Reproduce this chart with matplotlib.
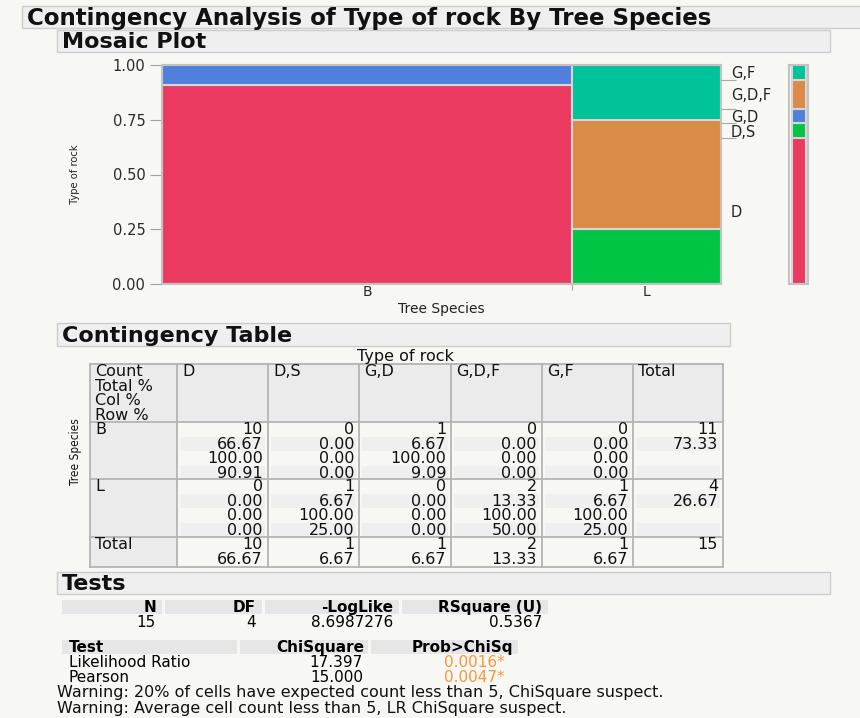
"""
JMP style contingency report: mosaic plot, contingency table and tests.
"""
import numpy as np
import matplotlib
matplotlib.use('Agg')
import matplotlib.pyplot as plt
from matplotlib.patches import Rectangle
from matplotlib.ticker import FixedLocator, NullFormatter

# data
species = ['B', 'L']
rock_types = ['D', 'D,S', 'G,D', 'G,D,F', 'G,F']
counts = np.array([[10, 0, 1, 0, 0],
                   [0, 1, 0, 2, 1]])
rock_colors = ['#EA3A60', '#00C444', '#507FDC', '#DC8A47', '#00C29B']
stat_labels = ['Count', 'Total %', 'Col %', 'Row %']

test_cols = ['N', 'DF', '-LogLike', 'RSquare (U)']
test_vals = ['15', '4', '8.6987276', '0.5367']
chi_cols = ['Test', 'ChiSquare', 'Prob>ChiSq']
chi_names = ['Likelihood Ratio', 'Pearson']
chi_square = ['17.397', '15.000']
chi_prob = ['0.0016*', '0.0047*']
warn_lines = ['Warning: 20% of cells have expected count less than 5, ChiSquare suspect.',
              'Warning: Average cell count less than 5, LR ChiSquare suspect.']

n_total = counts.sum()
row_tot = counts.sum(axis=1)
col_tot = counts.sum(axis=0)
total_pct = counts / n_total * 100
col_pct = counts / col_tot * 100
row_pct = counts / row_tot[:, None] * 100

W, H = 860, 718
BG = '#F7F7F4'
GRID = '#B4B4B4'
narrow = ['Liberation Sans Narrow', 'DejaVu Sans']

fig = plt.figure(figsize=(W / 100, H / 100), dpi=100, facecolor=BG)
bg = fig.add_axes([0, 0, 1, 1])
bg.set_xlim(0, W)
bg.set_ylim(H, 0)
bg.axis('off')


def px_axes(x0, y0, x1, y1):
    """axes placed in pixel coords (origin top left)"""
    return fig.add_axes([x0 / W, 1 - y1 / H, (x1 - x0) / W, (y1 - y0) / H])


def header(x0, y0, x1, y1, label, size=16):
    bg.add_patch(Rectangle((x0, y0), x1 - x0, y1 - y0, fc='#EFEFEF', ec='#CCCCCC', lw=1))
    bg.text(x0 + 5, (y0 + y1) / 2 + 1, label, fontsize=size, fontweight='bold',
            va='center', ha='left', color='#111111')


header(22, 6, 880, 28, 'Contingency Analysis of Type of rock By Tree Species', 16.5)
header(57, 30, 830, 52, 'Mosaic Plot')
header(57, 323, 730, 346, 'Contingency Table')
header(57, 572, 830, 594, 'Tests')

# ---- mosaic plot
ax = px_axes(162, 65, 721, 284)
ax.set_facecolor(BG)
widths = row_tot / n_total
lefts = np.concatenate(([0], np.cumsum(widths)[:-1]))
for i in range(len(species)):
    bottom = 0.0
    for j in range(len(rock_types)):
        h = counts[i, j] / row_tot[i]
        if h > 0:
            ax.bar(lefts[i], h, width=widths[i], bottom=bottom, align='edge',
                   color=rock_colors[j], edgecolor='#D6D6D6', linewidth=1.5)
        bottom += h
ax.set_xlim(0, 1)
ax.set_ylim(0, 1)
for s in ax.spines.values():
    s.set_color('#C2C2C2')
    s.set_linewidth(1.5)
ax.set_yticks([0, 0.25, 0.5, 0.75, 1.0])
ax.set_yticklabels(['0.00', '0.25', '0.50', '0.75', '1.00'])
ax.tick_params(axis='y', length=9, color='#A0A0A0', labelsize=10.5, labelcolor='#2A2A2A', pad=3)
ax.xaxis.set_major_locator(FixedLocator(lefts[1:]))
ax.xaxis.set_major_formatter(NullFormatter())
ax.set_xticks(lefts + widths / 2, minor=True)
ax.set_xticklabels(species, minor=True)
ax.tick_params(axis='x', which='major', length=4, color='#A0A0A0')
ax.tick_params(axis='x', which='minor', length=0, labelsize=10, labelcolor='#2A2A2A', pad=1)
ax.set_xlabel('Tree Species', fontsize=10, color='#222222', labelpad=2)
ax.set_ylabel('Type of rock', fontsize=8, family=narrow, stretch='condensed', color='#222222')
ax.yaxis.set_label_coords(-(162 - 80) / 559, 0.5)

# right hand labels use the overall rock type shares
shares = col_tot / n_total
cum = np.concatenate(([0], np.cumsum(shares)))
axr = ax.twinx()
axr.set_ylim(0, 1)
for s in axr.spines.values():
    s.set_visible(False)
axr.yaxis.set_major_locator(FixedLocator(cum[1:-1]))
axr.yaxis.set_major_formatter(NullFormatter())
axr.set_yticks((cum[:-1] + cum[1:]) / 2, minor=True)
axr.set_yticklabels(rock_types, minor=True)
axr.tick_params(axis='y', which='major', length=11, color='#A8A8A8')
axr.tick_params(axis='y', which='minor', length=0, labelsize=10.5, labelcolor='#222222', pad=7)

# marginal bar
axm = px_axes(789, 65, 808, 284)
axm.set_facecolor(BG)
axm.bar(np.zeros(len(shares)), shares, width=1, bottom=cum[:-1], align='edge',
        color=rock_colors, edgecolor='#D6D6D6', linewidth=1.5)
axm.set_xlim(-0.2, 1.15)
axm.set_ylim(0, 1)
axm.set_xticks([])
axm.set_yticks([])
for s in axm.spines.values():
    s.set_color('#C2C2C2')
    s.set_linewidth(1.5)

# ---- contingency table
col_edges = [90, 177, 268, 359, 451, 542, 633, 723]
row_edges = [364, 422, 479, 537, 567]
line0, line_step = 7.7, 14.5
tsize = 11.5

bg.add_patch(Rectangle((col_edges[0], row_edges[0]), col_edges[-1] - col_edges[0],
                       row_edges[1] - row_edges[0], fc='#EBEBEB', lw=0))
bg.add_patch(Rectangle((col_edges[0], row_edges[0]), col_edges[1] - col_edges[0],
                       row_edges[-1] - row_edges[0], fc='#EBEBEB', lw=0))
for b in range(1, 3):
    for k in (1, 3):
        yc = row_edges[b] + line0 + k * line_step
        for c in range(1, len(col_edges) - 1):
            bg.add_patch(Rectangle((col_edges[c] + 3, yc - 7), col_edges[c + 1] - col_edges[c] - 6,
                                   14, fc='#EFEFEF', lw=0))
for x in col_edges:
    bg.plot([x, x], [row_edges[0], row_edges[-1]], color=GRID, lw=1.3)
for y in row_edges:
    bg.plot([col_edges[0], col_edges[-1]], [y, y], color=GRID, lw=1.3)


def line_y(block, k):
    return row_edges[block] + line0 + k * line_step


def cell_text(block, k, col, s, ha='right'):
    if ha == 'right':
        x = col_edges[col + 1] - 5
    else:
        x = col_edges[col] + 5
    bg.text(x, line_y(block, k), s, fontsize=tsize, ha=ha, va='center', color='#111111')


bg.text((col_edges[1] + col_edges[6]) / 2, 356, 'Type of rock', fontsize=tsize,
        ha='center', va='center', color='#111111')
bg.text(75, 452, 'Tree Species', fontsize=8.5, family=narrow, stretch='condensed',
        rotation=90, ha='center', va='center', color='#111111')

for k, lab in enumerate(stat_labels):
    cell_text(0, k, 0, lab, ha='left')
for j, rt in enumerate(rock_types + ['Total']):
    cell_text(0, 0, j + 1, rt, ha='left')

for i, sp in enumerate(species):
    cell_text(i + 1, 0, 0, sp, ha='left')
    for j in range(len(rock_types)):
        cell_text(i + 1, 0, j + 1, '%d' % counts[i, j])
        cell_text(i + 1, 1, j + 1, '%.2f' % total_pct[i, j])
        cell_text(i + 1, 2, j + 1, '%.2f' % col_pct[i, j])
        cell_text(i + 1, 3, j + 1, '%.2f' % row_pct[i, j])
    cell_text(i + 1, 0, 6, '%d' % row_tot[i])
    cell_text(i + 1, 1, 6, '%.2f' % (row_tot[i] / n_total * 100))

cell_text(3, 0, 0, 'Total', ha='left')
for j in range(len(rock_types)):
    cell_text(3, 0, j + 1, '%d' % col_tot[j])
    cell_text(3, 1, j + 1, '%.2f' % (col_tot[j] / n_total * 100))
cell_text(3, 0, 6, '%d' % n_total)

# ---- tests
fsize = 11
t1_cells = [(62, 162), (165, 262), (265, 399), (402, 548)]
for (x0, x1), lab, val in zip(t1_cells, test_cols, test_vals):
    bg.add_patch(Rectangle((x0, 600), x1 - x0, 14, fc='#E6E6E6', lw=0))
    bg.text(x1 - 6, 607.5, lab, fontsize=fsize, fontweight='bold', ha='right', va='center')
    bg.text(x1 - 6, 622.5, val, fontsize=fsize, ha='right', va='center')

t2_cells = [(62, 237), (240, 368), (371, 518)]
for x0, x1 in t2_cells:
    bg.add_patch(Rectangle((x0, 640), x1 - x0, 14, fc='#E6E6E6', lw=0))
bg.text(69, 647.5, chi_cols[0], fontsize=fsize, fontweight='bold', ha='left', va='center')
bg.text(364, 647.5, chi_cols[1], fontsize=fsize, fontweight='bold', ha='right', va='center')
bg.text(513, 647.5, chi_cols[2], fontsize=fsize, fontweight='bold', ha='right', va='center')
for k in range(len(chi_names)):
    y = 662.5 + k * 14.5
    bg.text(69, y, chi_names[k], fontsize=fsize, ha='left', va='center')
    bg.text(363, y, chi_square[k], fontsize=fsize, ha='right', va='center')
    bg.text(505, y, chi_prob[k], fontsize=fsize, ha='right', va='center', color='#F7963A')

for k, w in enumerate(warn_lines):
    bg.text(57, 693 + k * 16, w, fontsize=11.5, ha='left', va='center', color='#111111')

plt.savefig('out.png', dpi=100, facecolor=BG)
